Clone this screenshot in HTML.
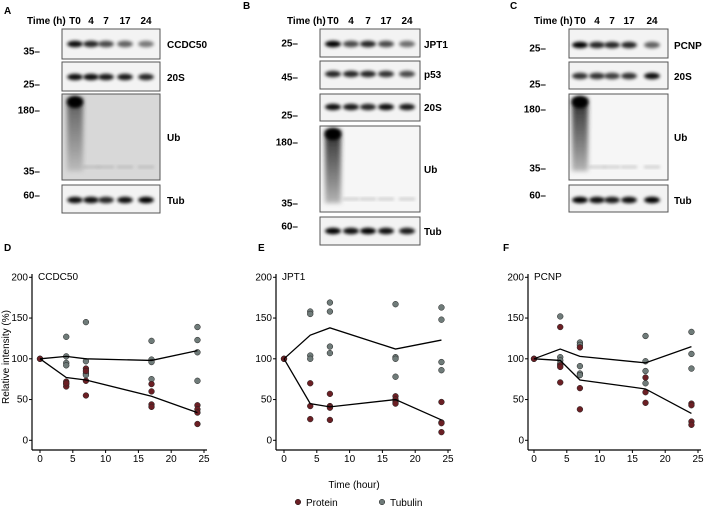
<!DOCTYPE html>
<html><head><meta charset="utf-8"><style>
html,body{margin:0;padding:0;background:#fff;}
svg{display:block;font-family:"Liberation Sans",Arial,sans-serif;}
.t{font-size:10px;fill:#000;}
.b{font-weight:bold;}
</style></head><body>
<svg id="fig" width="705" height="507" viewBox="0 0 705 507">
<defs>
<filter id="blur" x="-50%" y="-100%" width="200%" height="300%"><feGaussianBlur stdDeviation="1.6"/></filter>
<filter id="blur2" x="-50%" y="-50%" width="200%" height="200%"><feGaussianBlur stdDeviation="2.5"/></filter>
<linearGradient id="smear" x1="0" y1="0" x2="0" y2="1">
<stop offset="0" stop-color="#000"/><stop offset="0.25" stop-color="#333"/><stop offset="0.7" stop-color="#777"/><stop offset="1" stop-color="#aaa"/>
</linearGradient>
</defs>
<g id="blots"></g>
<g id="charts"></g>
<g>
<circle cx="298" cy="502" r="2.8" fill="#6b1f24" stroke="#222" stroke-width="0.5"/>
<text class="t" x="306" y="506" font-size="9">Protein</text>
<circle cx="382" cy="502" r="2.8" fill="#6f7b79" stroke="#222" stroke-width="0.5"/>
<text class="t" x="390" y="506" font-size="9">Tubulin</text>
</g>
<text class="t" x="354" y="488" text-anchor="middle" font-size="9">Time (hour)</text>
<text class="t" transform="translate(9,357) rotate(-90)" text-anchor="middle" font-size="9">Relative intensity (%)</text>
</svg>
<script>
const NS='http://www.w3.org/2000/svg';
function el(tag,attrs,parent,txt){const e=document.createElementNS(NS,tag);for(const k in attrs)e.setAttribute(k,attrs[k]);if(txt!==undefined)e.textContent=txt;parent.appendChild(e);return e;}

// ---------- Blots ----------
const blotG=document.getElementById('blots');
const laneLabels=['T0','4','7','17','24'];
const panels=[
 {letter:'A',lx:4,ly:14,timeX:27,lanes:[75,91,106,125,146],x0:62,x1:160,labX:167,
  boxes:[{y0:29,y1:59,name:'CCDC50',band:44,int:[0.95,0.85,0.7,0.6,0.5]},
         {y0:62,y1:91,name:'20S',band:77,int:[0.95,0.95,0.9,0.9,0.85]},
         {y0:94,y1:180,name:'Ub',ub:true,bg:'#d8d8d8'},
         {y0:185,y1:213,name:'Tub',band:200,int:[0.95,0.95,0.85,0.95,1]}],
  marks:[['35',51],['25',84],['180',110],['35',171],['60',195]],markX:40},
 {letter:'B',lx:243,ly:9,timeX:287,lanes:[333,351,368,386,407],x0:320,x1:420,labX:424,
  boxes:[{y0:29,y1:57,name:'JPT1',band:44,int:[1,0.7,0.85,0.7,0.55]},
         {y0:61,y1:89,name:'p53',band:74,int:[0.85,0.85,0.85,0.8,0.7]},
         {y0:94,y1:121,name:'20S',band:107,int:[0.95,0.9,0.85,0.95,0.9]},
         {y0:126,y1:212,name:'Ub',ub:true,bg:'#f6f6f6'},
         {y0:217,y1:245,name:'Tub',band:231,int:[1,0.95,1,0.95,0.9]}],
  marks:[['25',43],['45',77],['25',115],['180',142],['35',203],['60',226]],markX:298},
 {letter:'C',lx:510,ly:9,timeX:534,lanes:[580,597,612,629,652],x0:569,x1:668,labX:674,
  boxes:[{y0:29,y1:58,name:'PCNP',band:45,int:[1,0.85,0.85,0.85,0.6]},
         {y0:62,y1:89,name:'20S',band:76,int:[0.8,0.8,0.75,0.8,0.95]},
         {y0:94,y1:180,name:'Ub',ub:true,bg:'#f6f6f6'},
         {y0:185,y1:212,name:'Tub',band:200,int:[1,0.95,0.9,0.95,1]}],
  marks:[['25',48],['25',84],['180',109],['35',168],['60',195]],markX:546}
];
panels.forEach(p=>{
  const g=el('g',{},blotG);
  
  
  const L=el('text',{class:'t b',x:p.lx,y:p.ly,'font-size':'10'},g,p.letter);
  
  
  const th=el('text',{class:'t b',x:p.timeX,y:24,'font-size':'8.5'},g,'Time (h)');
  
  
  p.lanes.forEach((x,i)=>{const t=el('text',{class:'t b',x:x,y:24,'text-anchor':'middle','font-size':'9'},g,laneLabels[i]);
    
    });
  const lw=(p.x1-p.x0)/5*0.8;
  p.boxes.forEach(b=>{
    const r=el('rect',{x:p.x0,y:b.y0,width:p.x1-p.x0,height:b.y1-b.y0,fill:b.bg||'#f3f3f3',stroke:'#555','stroke-width':1},g);
    
    
    if(b.ub){
      const x=p.lanes[0];
      el('rect',{x:x-8,y:b.y0+4,width:16,height:(b.y1-b.y0)*0.85,fill:'url(#smear)',filter:'url(#blur2)',opacity:p.letter==='A'?0.6:0.85},g);
      el('ellipse',{cx:x,cy:b.y0+8,rx:8,ry:6,fill:'#000',filter:'url(#blur)'},g);
      for(let i=1;i<5;i++){el('rect',{x:p.lanes[i]-8,y:b.y1-14,width:16,height:2,fill:'#999',filter:'url(#blur)',opacity:0.6},g);}
    } else {
      b.int.forEach((v,i)=>{el('ellipse',{cx:p.lanes[i],cy:b.band,rx:lw/2,ry:3.2,fill:'#000',opacity:v,filter:'url(#blur)'},g);});
    }
    const lab=el('text',{class:'t b',x:p.labX,y:(b.band||(b.y0+b.y1)/2)+4,'font-size':'10'},g,b.name);
    
    
  });
  p.marks.forEach(m=>{
    const t=el('text',{class:'t b',x:p.markX,y:m[1]+3.5,'text-anchor':'end','font-size':'9.5'},g,m[0]+'\u2013');
    
    
  });
});

// ---------- Charts data ----------
const times=[0,4,7,17,24];
const yTicks=[0,50,100,150,200];
const xTicks=[0,5,10,15,20,25];
const ccdcProtein=[[100],[72,69,66,70],[88,85,73,55],[69,60,44,41],[43,38,34,20]];
const ccdcTubulin=[[100],[127,103,95,92],[145,97,82,80],[122,99,96,75],[139,123,108,73]];
const ccdcProteinMean=[100,77,74,54,34];
const ccdcTubulinMean=[100,103,100,98,110];
const jptProtein=[[100],[70,42,26],[57,42,40,25],[54,50,47,45],[47,22,21,10]];
const jptTubulin=[[100],[158,155,104,100],[169,158,115,107],[167,102,100,78],[163,148,96,86]];
const jptProteinMean=[100,45,41,50,25];
const jptTubulinMean=[100,129,138,112,123];
const pcnpProtein=[[100],[139,92,90,71],[114,64,38],[77,59,46],[45,43,23,19]];
const pcnpTubulin=[[100],[152,102,98,94],[120,117,91,82,80],[128,97,85,70],[133,106,88]];
const pcnpProteinMean=[100,98,74,63,33];
const pcnpTubulinMean=[100,112,103,95,115];

const charts=[
 {letter:'D',lx:4,name:'CCDC50',axisX:32,x0:40,x25:204,prot:ccdcProtein,tub:ccdcTubulin,pm:ccdcProteinMean,tm:ccdcTubulinMean},
 {letter:'E',lx:258,name:'JPT1',axisX:276,x0:284,x25:448,prot:jptProtein,tub:jptTubulin,pm:jptProteinMean,tm:jptTubulinMean},
 {letter:'F',lx:503,name:'PCNP',axisX:528,x0:534,x25:698,prot:pcnpProtein,tub:pcnpTubulin,pm:pcnpProteinMean,tm:pcnpTubulinMean}
];
const cg=document.getElementById('charts');
const Y0=440.3,Y200=277.3,axisY=450;
function ys(v){return Y0+(Y200-Y0)*v/200;}
charts.forEach(c=>{
  const xs=v=>c.x0+(c.x25-c.x0)*v/25;
  const g=el('g',{},cg);
  
  
  const L=el('text',{class:'t b',x:c.lx,y:251,'font-size':'10'},g,c.letter);
  
  
  const ya=el('line',{x1:c.axisX,y1:274,x2:c.axisX,y2:axisY,stroke:'#000','stroke-width':1.2},g);
  
  
  const xa=el('line',{x1:c.axisX,y1:axisY,x2:c.x25+3,y2:axisY,stroke:'#000','stroke-width':1.2},g);
  
  
  yTicks.forEach(v=>{
    el('line',{x1:c.axisX-3,y1:ys(v),x2:c.axisX,y2:ys(v),stroke:'#000'},g);
    const t=el('text',{class:'t',x:c.axisX-4,y:ys(v)+3,'text-anchor':'end','font-size':'8.5'},g,String(v));
    
    
  });
  xTicks.forEach(v=>{
    el('line',{x1:xs(v),y1:axisY,x2:xs(v),y2:axisY+3,stroke:'#000'},g);
    const t=el('text',{class:'t',x:xs(v),y:axisY+12,'text-anchor':'middle','font-size':'8.5'},g,String(v));
    
    
  });
  const ti=el('text',{class:'t',x:c.axisX+6,y:280,'font-size':'8.5'},g,c.name);
  
  
  [[c.tub,'#6f7b79','tubulin'],[c.prot,'#6b1f24','protein']].forEach(([ser,col,nm])=>{
    ser.forEach((vals,i)=>vals.forEach(v=>{
      const d=el('circle',{cx:xs(times[i]),cy:ys(v),r:2.9,fill:col,stroke:'#222','stroke-width':0.5},g);
      
      
    }));
  });
  [[c.tm,'tubulin-mean-line'],[c.pm,'protein-mean-line']].forEach(([m,nm])=>{
    const pl=el('polyline',{points:m.map((v,i)=>xs(times[i])+','+ys(v)).join(' '),fill:'none',stroke:'#000','stroke-width':1.3},g);
    
    
  });
});
</script>
</body></html>
